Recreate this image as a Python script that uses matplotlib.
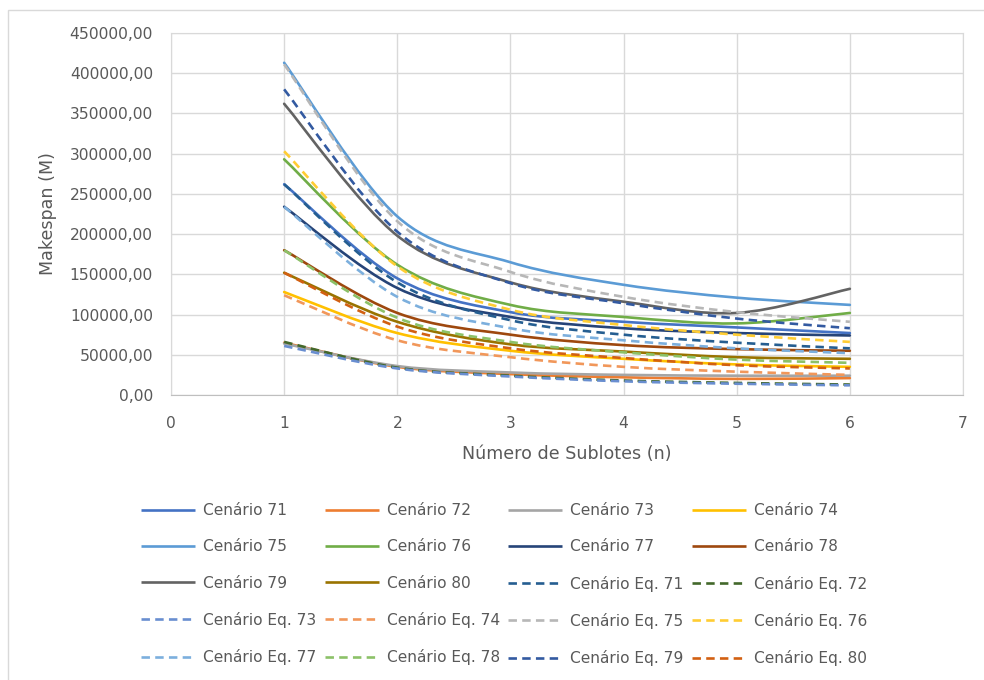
import matplotlib
matplotlib.use("Agg")
import matplotlib.pyplot as plt
from matplotlib.path import Path
from matplotlib.patches import PathPatch, Rectangle
from matplotlib.lines import Line2D
from matplotlib.ticker import FuncFormatter

# Número de sublotes
sublotes = [1, 2, 3, 4, 5, 6]

# Cenários (simulação)
cenario_71 = [262000, 145000, 103000, 91000, 84000, 77000]
cenario_72 = [65000, 35000, 26000, 22000, 20000, 21000]
cenario_73 = [64000, 36000, 28000, 25000, 24000, 24000]
cenario_74 = [128000, 77000, 55000, 45000, 38000, 35000]
cenario_75 = [413000, 222000, 165000, 137000, 121000, 112000]
cenario_76 = [293000, 162000, 112000, 97000, 89000, 102000]
cenario_77 = [234000, 133000, 97000, 83000, 77000, 74000]
cenario_78 = [180000, 102000, 75000, 62000, 57000, 55000]
cenario_79 = [362000, 198000, 140000, 116000, 102000, 132000]
cenario_80 = [152000, 91000, 63000, 54000, 47000, 45000]

# Cenários (equação)
cenario_eq_71 = [262000, 140000, 93000, 75000, 65000, 58000]
cenario_eq_72 = [66000, 34000, 24000, 18000, 15000, 13000]
cenario_eq_73 = [61000, 33000, 23000, 17000, 14000, 12000]
cenario_eq_74 = [124000, 68000, 47000, 35000, 29000, 25000]
cenario_eq_75 = [411000, 216000, 153000, 122000, 103000, 91000]
cenario_eq_76 = [303000, 160000, 106000, 87000, 75000, 66000]
cenario_eq_77 = [234000, 122000, 83000, 68000, 58000, 52000]
cenario_eq_78 = [180000, 96000, 66000, 53000, 44000, 40000]
cenario_eq_79 = [380000, 203000, 139000, 114000, 95000, 83000]
cenario_eq_80 = [152000, 85000, 58000, 46000, 37000, 33000]

series = [
    ("Cenário 71", cenario_71, "#4472C4", "-"),
    ("Cenário 72", cenario_72, "#ED7D31", "-"),
    ("Cenário 73", cenario_73, "#A5A5A5", "-"),
    ("Cenário 74", cenario_74, "#FFC000", "-"),
    ("Cenário 75", cenario_75, "#5B9BD5", "-"),
    ("Cenário 76", cenario_76, "#70AD47", "-"),
    ("Cenário 77", cenario_77, "#264478", "-"),
    ("Cenário 78", cenario_78, "#9E480E", "-"),
    ("Cenário 79", cenario_79, "#636363", "-"),
    ("Cenário 80", cenario_80, "#997300", "-"),
    ("Cenário Eq. 71", cenario_eq_71, "#255E91", "--"),
    ("Cenário Eq. 72", cenario_eq_72, "#43682B", "--"),
    ("Cenário Eq. 73", cenario_eq_73, "#698ED0", "--"),
    ("Cenário Eq. 74", cenario_eq_74, "#F1975A", "--"),
    ("Cenário Eq. 75", cenario_eq_75, "#B7B7B7", "--"),
    ("Cenário Eq. 76", cenario_eq_76, "#FFCD33", "--"),
    ("Cenário Eq. 77", cenario_eq_77, "#7CAFDD", "--"),
    ("Cenário Eq. 78", cenario_eq_78, "#8CC168", "--"),
    ("Cenário Eq. 79", cenario_eq_79, "#335AA1", "--"),
    ("Cenário Eq. 80", cenario_eq_80, "#D26012", "--"),
]

TXT = "#595959"
GRID = "#D9D9D9"
LW = 1.9
DASH = (3.2, 2.0)


def smooth_path(xs, ys):
    """ Excel-like smoothed line: cubic Bezier through the data points. """
    n = len(xs)
    verts = [(xs[0], ys[0])]
    codes = [Path.MOVETO]
    for i in range(n - 1):
        a = i - 1 if i > 0 else i
        d = i + 2 if i + 2 < n else i + 1
        c1 = (xs[i] + (xs[i + 1] - xs[a]) / 6.0, ys[i] + (ys[i + 1] - ys[a]) / 6.0)
        c2 = (xs[i + 1] - (xs[d] - xs[i]) / 6.0, ys[i + 1] - (ys[d] - ys[i]) / 6.0)
        verts += [c1, c2, (xs[i + 1], ys[i + 1])]
        codes += [Path.CURVE4] * 3
    return Path(verts, codes)


fig = plt.figure(figsize=(9.84, 6.8), dpi=100)
ax = fig.add_axes([171 / 984, 1 - 395 / 680, (963 - 171) / 984, (395 - 33) / 680])

handles = []
for name, vals, color, ls in series:
    patch = PathPatch(smooth_path(sublotes, vals), fill=False, edgecolor=color,
                      linewidth=LW, capstyle="round", joinstyle="round")
    if ls == "--":
        patch.set_linestyle((0, DASH))
        patch.set_capstyle("butt")
    ax.add_patch(patch)
    h = Line2D([], [], color=color, linewidth=LW, solid_capstyle="butt",
               dash_capstyle="butt")
    if ls == "--":
        h.set_dashes(DASH)
    handles.append((h, name))

ax.set_xlim(0, 7)
ax.set_ylim(0, 450000)
ax.set_xticks(range(0, 8))
ax.set_yticks(range(0, 450001, 50000))
ax.yaxis.set_major_formatter(FuncFormatter(lambda v, p: ("%.2f" % v).replace(".", ",")))
ax.grid(True, color=GRID, linewidth=1.0)
ax.set_axisbelow(True)
for s in ax.spines.values():
    s.set_color(GRID)
ax.spines["bottom"].set_color("#BFBFBF")
ax.tick_params(length=0, labelsize=11.2, colors=TXT)
ax.tick_params(axis="x", pad=15)
ax.tick_params(axis="y", pad=13)
ax.set_xlabel("Número de Sublotes (n)", fontsize=12.6, color=TXT, labelpad=10)
ax.set_ylabel("Makespan (M)", fontsize=12.6, color=TXT, labelpad=9)

# legend: row-major order in 4 columns
ncol, nrow = 4, 5
order = [None] * len(handles)
for k in range(len(handles)):
    r, c = divmod(k, ncol)
    order[c * nrow + r] = handles[k]
leg = fig.legend([h for h, _ in order], [n for _, n in order], ncol=ncol,
                 loc="upper left", bbox_to_anchor=(141 / 984, 1 - 503 / 680),
                 frameon=False, fontsize=11.1, handlelength=3.5,
                 handletextpad=0.52, columnspacing=0.55, labelspacing=1.38,
                 borderpad=0, borderaxespad=0)
for t in leg.get_texts():
    t.set_color(TXT)

# chart border
fig.patches.append(Rectangle((8 / 984, -0.05), 1.0, 1 - 10 / 680 + 0.05,
                             transform=fig.transFigure, fill=False,
                             edgecolor=GRID, linewidth=1.0))

fig.savefig("out.png", dpi=100)
